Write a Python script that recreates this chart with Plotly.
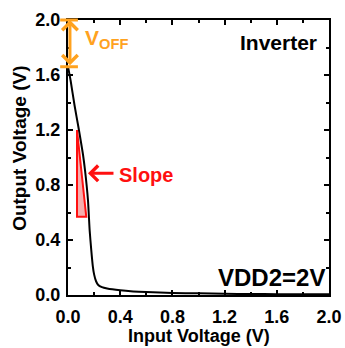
import plotly.graph_objects as go

# Transfer curve (Input Voltage vs Output Voltage)
vin = [0.0, 0.02, 0.05, 0.08, 0.115, 0.13, 0.153, 0.166, 0.178, 0.19, 0.2,
       0.215, 0.23, 0.26, 0.3, 0.4, 0.5, 0.6, 0.8, 1.0, 1.2, 1.4, 1.6, 1.8, 2.0]
vout = [1.66, 1.56, 1.38, 1.22, 1.02, 0.91, 0.69, 0.47, 0.33, 0.21, 0.15,
        0.10, 0.075, 0.057, 0.047, 0.034, 0.026, 0.021, 0.015, 0.012, 0.009,
        0.007, 0.006, 0.005, 0.005]

tick_vals = [0.0, 0.4, 0.8, 1.2, 1.6, 2.0]
tick_text = ["0.0", "0.4", "0.8", "1.2", "1.6", "2.0"]
axis_range = [0.0, 2.0]
x_title = "Input Voltage (V)"
y_title = "Output Voltage (V)"

# annotation anchors (data units)
voff_x = 0.015
voff_top = 2.0
voff_bottom = 1.66
voff_bar = [-0.06, 0.076]
tri_x = [0.069, 0.069, 0.14]
tri_y = [1.2, 0.57, 0.57]
slope_tip = (0.153, 0.885)
slope_tail_x = 0.36

ORANGE = "#FFA21F"
RED = "#FF1010"
FONT = "Liberation Sans"

fig = go.Figure()
fig.add_trace(go.Scatter(x=vin, y=vout, mode="lines",
                         line=dict(color="black", width=2, shape="spline", smoothing=0.6),
                         showlegend=False, hoverinfo="skip"))

axis_common = dict(
    range=axis_range, tickvals=tick_vals, ticktext=tick_text,
    showline=True, linewidth=2, linecolor="black", mirror="allticks",
    ticks="inside", ticklen=5, tickwidth=1.5, tickcolor="black",
    showgrid=False, zeroline=False, automargin=False,
    tickfont=dict(family=FONT, size=18, color="black", weight="bold"),
    minor=dict(ticks="inside", ticklen=3, tickwidth=1.5, tickcolor="black", dtick=0.2, showgrid=False),
)

fig.update_xaxes(**axis_common, ticklabelstandoff=4)
fig.update_yaxes(**axis_common, ticklabelstandoff=2)

# red triangle (slope)
path = "M {},{} L {},{} L {},{} Z".format(tri_x[0], tri_y[0], tri_x[1], tri_y[1], tri_x[2], tri_y[2])
fig.add_shape(type="path", path=path, xref="x", yref="y",
              fillcolor="rgba(240,120,120,0.6)", line=dict(color=RED, width=2), layer="above")

# VOFF bars (paper coords so they are not clipped)
def px(v):
    return (v - axis_range[0]) / (axis_range[1] - axis_range[0])

for yy in (voff_top, voff_bottom):
    fig.add_shape(type="line", xref="paper", yref="paper",
                  x0=px(voff_bar[0]), x1=px(voff_bar[1]), y0=px(yy), y1=px(yy),
                  line=dict(color=ORANGE, width=3), layer="above")

title_font = dict(family=FONT, size=18, color="black", weight="bold")
annotations = [
    dict(x=0.5, y=-0.148, xref="paper", yref="paper", text=x_title, showarrow=False,
         xanchor="center", yanchor="middle", font=title_font),
    dict(x=-0.184, y=0.535, xref="paper", yref="paper", text=y_title, showarrow=False,
         xanchor="center", yanchor="middle", textangle=-90,
         font=dict(family=FONT, size=19, color="black", weight="bold")),
    dict(x=voff_x, y=voff_top, ax=voff_x, ay=voff_bottom, xref="x", yref="y",
         axref="x", ayref="y", text="", showarrow=True, arrowside="end+start",
         arrowhead=4, startarrowhead=4, arrowsize=1, startarrowsize=1,
         arrowwidth=3, arrowcolor=ORANGE),
    dict(x=slope_tip[0], y=slope_tip[1], ax=slope_tail_x, ay=slope_tip[1],
         xref="x", yref="y", axref="x", ayref="y", text="", showarrow=True,
         arrowhead=4, arrowsize=1, arrowwidth=3, arrowcolor=RED),
    dict(x=0.375, y=0.87, xref="x", yref="y", text="Slope", showarrow=False,
         xanchor="left", yanchor="middle",
         font=dict(family=FONT, size=20, color=RED, weight="bold")),
    dict(x=0.115, y=1.86, xref="x", yref="y", text="V<sub>OFF</sub>", showarrow=False,
         xanchor="left", yanchor="middle",
         font=dict(family=FONT, size=21, color=ORANGE, weight="bold")),
    dict(x=1.92, y=1.84, xref="x", yref="y", text="Inverter", showarrow=False,
         xanchor="right", yanchor="middle",
         font=dict(family=FONT, size=21, color="black", weight="bold")),
    dict(x=1.985, y=0.13, xref="x", yref="y", text="VDD2=2V", showarrow=False,
         xanchor="right", yanchor="middle",
         font=dict(family=FONT, size=24, color="black", weight="bold")),
]
fig.update_layout(
    width=345, height=348, margin=dict(l=68, r=16, t=20, b=53),
    paper_bgcolor="white", plot_bgcolor="white", annotations=annotations,
    showlegend=False,
)

fig.write_html("out.html")
